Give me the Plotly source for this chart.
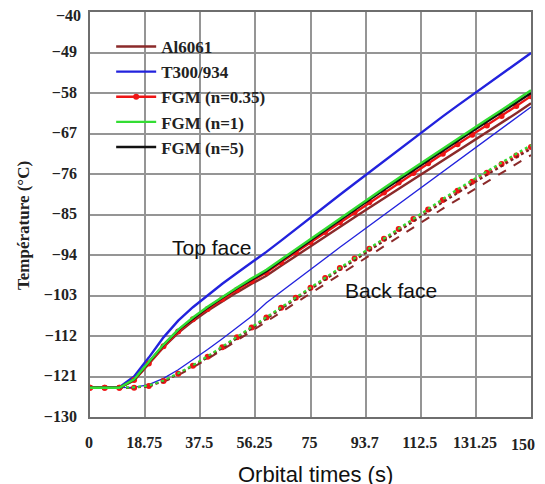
import plotly.graph_objects as go

# ---------------- data ----------------
time_s = [0, 5, 10, 15, 20, 25, 30, 35, 40, 45, 50, 55, 60, 65, 70, 75, 80, 85, 90, 95,
          100, 105, 110, 115, 120, 125, 130, 135, 140, 145, 150]

# Top face
al_top = [-123.5, -123.5, -123.5, -121.9, -118.3, -114.5, -111.3, -108.7, -106.4, -104.3, -102.3,
          -100.4, -98.6, -96.4, -94.2, -92.0, -89.9, -87.8, -85.6, -83.5, -81.4, -79.3, -77.2,
          -75.1, -73.0, -71.0, -68.9, -66.8, -64.7, -62.5, -60.3]
t300_top = [-123.5, -123.5, -123.4, -121.0, -116.8, -112.3, -108.6, -105.6, -102.9, -100.4, -98.0,
            -95.7, -93.3, -90.8, -88.2, -85.6, -83.1, -80.6, -78.1, -75.6, -73.0, -70.5, -68.0,
            -65.6, -63.2, -60.8, -58.5, -56.1, -53.8, -51.4, -49.1]
fgm035_top = [-123.5, -123.5, -123.5, -121.8, -118.1, -114.3, -111.0, -108.3, -106.0, -103.8, -101.7,
              -99.8, -97.9, -95.6, -93.4, -91.1, -88.9, -86.7, -84.5, -82.3, -80.1, -77.9, -75.8,
              -73.6, -71.5, -69.4, -67.3, -65.2, -63.1, -60.9, -58.7]
fgm1_top = [-123.5, -123.5, -123.5, -121.6, -117.8, -113.9, -110.6, -107.9, -105.5, -103.3, -101.2,
            -99.2, -97.3, -95.0, -92.7, -90.4, -88.1, -85.8, -83.6, -81.3, -79.1, -76.9, -74.7,
            -72.5, -70.3, -68.2, -66.0, -63.9, -61.8, -59.6, -57.4]
fgm5_top = [-123.5, -123.5, -123.5, -121.7, -117.9, -114.0, -110.7, -108.1, -105.7, -103.5, -101.4,
            -99.5, -97.6, -95.3, -93.0, -90.7, -88.4, -86.2, -83.9, -81.7, -79.5, -77.3, -75.1,
            -72.9, -70.8, -68.6, -66.5, -64.4, -62.3, -60.2, -58.0]

# Back face
al_back = [-123.5, -123.5, -123.5, -123.5, -123.2, -122.2, -120.7, -119.0, -117.1, -115.1, -113.0,
           -110.9, -108.8, -106.7, -104.6, -102.5, -100.4, -98.3, -96.2, -94.1, -92.0, -89.9, -87.8,
           -85.7, -83.7, -81.7, -79.7, -77.7, -75.7, -73.7, -71.8]
t300_back = [-123.5, -123.5, -123.5, -123.4, -122.8, -121.4, -119.5, -117.3, -115.0, -112.6, -110.1,
             -107.6, -104.6, -102.1, -99.6, -97.1, -94.7, -92.3, -89.9, -87.5, -85.1, -82.7, -80.3,
             -77.9, -75.5, -73.1, -70.7, -68.3, -65.9, -63.5, -61.1]
fgm035_back = [-123.5, -123.5, -123.5, -123.5, -123.1, -122.0, -120.4, -118.6, -116.6, -114.5, -112.3,
               -110.1, -107.9, -105.7, -103.5, -101.3, -99.1, -96.9, -94.8, -92.6, -90.4, -88.2, -86.0,
               -83.9, -81.8, -79.7, -77.7, -75.7, -73.8, -71.9, -70.0]
fgm1_back = [-123.5, -123.5, -123.5, -123.4, -123.0, -121.9, -120.3, -118.5, -116.5, -114.4, -112.2,
             -110.0, -107.8, -105.6, -103.4, -101.2, -99.0, -96.8, -94.6, -92.4, -90.2, -88.0, -85.8,
             -83.6, -81.5, -79.4, -77.4, -75.4, -73.4, -71.5, -69.6]
fgm5_back = [-123.5, -123.5, -123.5, -123.5, -123.1, -122.1, -120.5, -118.7, -116.8, -114.7, -112.5,
             -110.4, -108.2, -106.0, -103.8, -101.7, -99.5, -97.3, -95.2, -93.0, -90.8, -88.7, -86.5,
             -84.4, -82.3, -80.2, -78.2, -76.2, -74.2, -72.3, -70.4]

x_tick_vals = [0, 18.75, 37.5, 56.25, 75, 93.75, 112.5, 131.25, 150]
x_tick_text = ["0", "18.75", "37.5", "56.25", "75", "93.7", "112.5", "131.25", "150"]
y_tick_vals = [-40, -49, -58, -67, -76, -85, -94, -103, -112, -121, -130]
y_tick_text = ["\u2212" + str(abs(v)) for v in y_tick_vals]

names = ["Al6061", "T300/934", "FGM (n=0.35)", "FGM (n=1)", "FGM (n=5)"]
colors = ["#8B2A2A", "#2222DD", "#EE1515", "#33DD33", "#111111"]

# ---------------- figure ----------------
fig = go.Figure()

# back-face curves (no legend)
back = [al_back, t300_back, fgm035_back, fgm5_back, fgm1_back]
back_idx = [0, 1, 2, 4, 3]
for vals, i in zip(back, back_idx):
    if i == 1:
        line = dict(color=colors[i], width=1.3)
        mode = "lines"
    elif i == 2:
        line = dict(color=colors[i], width=1.6, dash="dot")
        mode = "lines+markers"
    elif i == 3:
        line = dict(color=colors[i], width=2.2, dash="dot")
        mode = "lines"
    elif i == 0:
        line = dict(color=colors[i], width=2.0, dash="dash")
        mode = "lines"
    else:
        line = dict(color="#7a1f1f", width=2.0, dash="dot")
        mode = "lines"
    fig.add_trace(go.Scatter(x=time_s, y=vals, mode=mode, line=line,
                             marker=dict(size=6, color=colors[2]),
                             showlegend=False, hoverinfo="skip"))

# top-face curves (legend)
top = [al_top, t300_top, fgm035_top, fgm5_top, fgm1_top]
top_idx = [0, 1, 2, 4, 3]
for vals, i in zip(top, top_idx):
    mode = "lines+markers" if i == 2 else "lines"
    fig.add_trace(go.Scatter(x=time_s, y=vals, mode=mode, name=names[i],
                             line=dict(color=colors[i], width=2.4),
                             marker=dict(size=6, color=colors[i]),
                             legendgroup=names[i], legendrank=i + 1))

serif = "Liberation Serif"
grid = "#959595"
tickfont = dict(family=serif, size=16, color="#222", weight="bold")

# edge tick labels drawn as annotations so they stay inside the page
x_axis_text = [t if v != x_tick_vals[-1] else "" for v, t in zip(x_tick_vals, x_tick_text)]
y_axis_text = [t if v != y_tick_vals[0] else "" for v, t in zip(y_tick_vals, y_tick_text)]

fig.update_layout(
    width=545, height=484,
    margin=dict(l=82, r=22, t=4, b=75),
    paper_bgcolor="white", plot_bgcolor="white",
    showlegend=True,
    legend=dict(x=0.048, y=0.958, xanchor="left", yanchor="top",
                bgcolor="rgba(255,255,255,0)", borderwidth=0,
                font=dict(family=serif, size=17, color="#222", weight="bold"),
                traceorder="grouped", tracegroupgap=0, itemwidth=40),
    xaxis=dict(range=[0, 150], tickmode="array", tickvals=x_tick_vals, ticktext=x_axis_text,
               showgrid=True, gridcolor=grid, gridwidth=1.6, zeroline=False,
               showline=True, linecolor="#6e6e6e", linewidth=1.8, mirror=True,
               ticks="", ticklabelstandoff=10, ticklabelshift=-1,
               automargin=False, ticklabeloverflow="allow", tickfont=tickfont),
    yaxis=dict(range=[-130, -40], tickmode="array", tickvals=y_tick_vals, ticktext=y_axis_text,
               showgrid=True, gridcolor=grid, gridwidth=1.6, zeroline=False,
               showline=True, linecolor="#6e6e6e", linewidth=1.8, mirror=True,
               ticks="", ticklabelstandoff=8, ticklabelshift=-1,
               automargin=False, ticklabeloverflow="allow", tickfont=tickfont),
    annotations=[
        dict(text=x_tick_text[-1], xref="x", yref="paper", x=x_tick_vals[-1], y=0,
             xanchor="right", yanchor="top", xshift=6, yshift=-17, showarrow=False,
             font=tickfont),
        dict(text=y_tick_text[0], xref="paper", yref="y", x=0, y=y_tick_vals[0],
             xanchor="right", yanchor="middle", xshift=-7, yshift=-3, showarrow=False,
             font=tickfont),
        dict(text="Température (°C)", textangle=-90, xref="paper", yref="paper",
             x=-0.152, y=0.474, xanchor="center", yanchor="middle", showarrow=False,
             font=dict(family=serif, size=17, color="#222", weight="bold")),
        dict(text="Orbital times (s)", xref="paper", yref="paper",
             x=(315 - 90) / 441, y=-0.106, xanchor="center", yanchor="top", showarrow=False,
             font=dict(family="Liberation Sans", size=22, color="#111")),
        dict(text="Top face", xref="x", yref="y", x=(211 - 90) / 2.94,
             y=-40 - (247 - 12) / 4.5, xanchor="center", yanchor="middle", showarrow=False,
             font=dict(family="Liberation Sans", size=21, color="#111")),
        dict(text="Back face", xref="x", yref="y", x=(391 - 90) / 2.94,
             y=-40 - (290 - 12) / 4.5, xanchor="center", yanchor="middle", showarrow=False,
             font=dict(family="Liberation Sans", size=21, color="#111")),
    ],
)

fig.write_html("out.html")
